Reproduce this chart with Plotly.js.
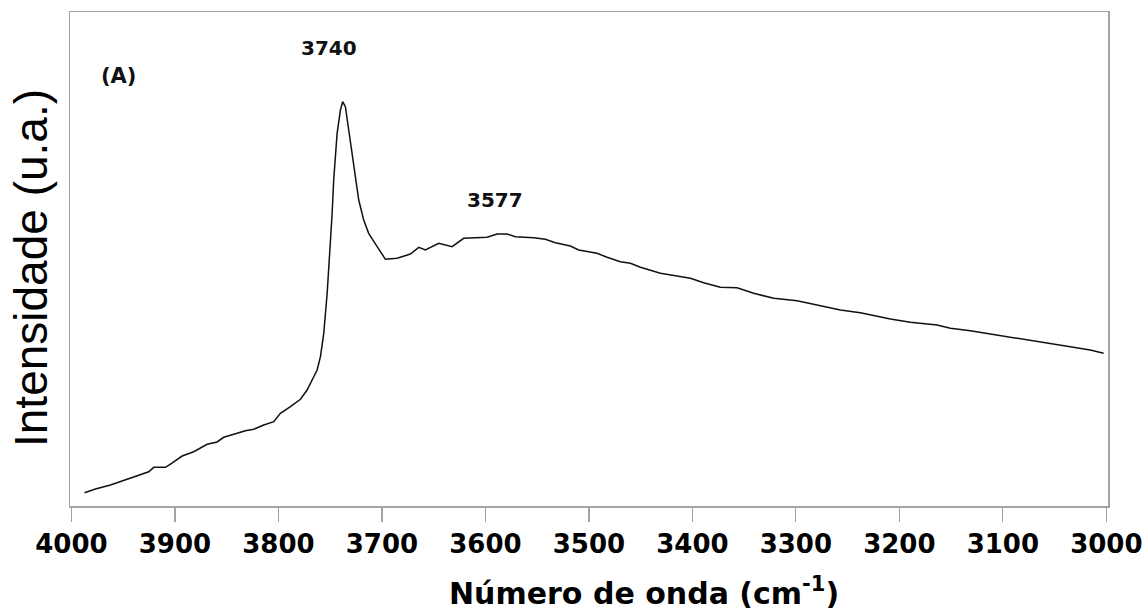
<!DOCTYPE html>
<html>
<head>
<meta charset="utf-8">
<script src="https://cdn.plot.ly/plotly-3.0.1.min.js"></script>
<style>
html,body{margin:0;padding:0;background:#fff;}
#chart{width:1145px;height:611px;}
</style>
</head>
<body>
<div id="chart"></div>
<script>
// Wavenumber (cm-1) and intensity (a.u.)
const wavenumber = [3987.4,3976.8,3962.3,3943.0,3925.3,3920.5,3909.2,3904.3,3893.0,3881.8,3868.9,3859.2,3852.9,3839.9,3831.9,3823.9,3814.2,3804.5,3798.1,3788.4,3778.7,3772.3,3769.1,3762.6,3759.4,3756.2,3752.9,3749.8,3748.1,3746.6,3743.3,3740.1,3737.9,3735.3,3732.1,3728.8,3725.6,3722.4,3717.6,3712.8,3704.6,3696.6,3685.3,3672.5,3664.4,3658.0,3645.1,3632.2,3621.0,3608.0,3598.4,3588.7,3579.0,3571.0,3553.3,3542.0,3532.4,3517.9,3509.9,3492.1,3482.4,3469.6,3459.9,3450.2,3430.9,3401.9,3389.1,3373.0,3356.8,3340.8,3321.4,3298.8,3276.3,3257.0,3237.7,3228.0,3208.7,3189.4,3163.6,3150.7,3131.4,3112.1,3092.8,3073.4,3054.1,3034.8,3015.5,3002.6];
const intensity = [2.69,3.44,4.25,5.67,6.94,7.83,7.83,8.50,10.12,10.99,12.49,12.96,13.91,14.72,15.24,15.53,16.40,17.06,18.77,20.10,21.60,23.48,24.84,27.53,30.22,34.96,43.06,52.49,59.25,65.99,75.44,80.16,81.84,80.83,76.11,71.40,66.66,61.94,57.89,55.20,52.49,49.94,50.14,51.01,52.37,51.82,53.18,52.49,54.19,54.39,54.39,55.06,55.06,54.51,54.31,53.99,53.30,52.63,51.82,51.15,50.34,49.45,49.13,48.32,47.11,46.09,45.20,44.27,44.19,43.06,42.04,41.56,40.55,39.68,39.13,38.66,37.85,37.19,36.64,35.97,35.49,34.82,34.15,33.46,32.93,32.25,31.58,30.91];
const xTicks = [4000,3900,3800,3700,3600,3500,3400,3300,3200,3100,3000];
const peakLabels = ["3740","3577"];
const peakX = [3740,3577];
const peakY = [81.84,55.06];

const frameColor = '#a3a3a3';

const trace = {
  x: wavenumber, y: intensity, type: 'scatter', mode: 'lines',
  line: {color: '#111', width: 1.5},
  hoverinfo: 'skip', showlegend: false
};

const annotations = [
  {xref:'x', yref:'y', x: peakX[0], y: peakY[0], text: peakLabels[0], showarrow:false,
   xshift:-12, yshift:54, font:{family:'DejaVu Sans', size:20, weight:'bold', color:'#111'}},
  {xref:'x', yref:'y', x: peakX[1], y: peakY[1], text: peakLabels[1], showarrow:false,
   xshift:-14, yshift:34, font:{family:'DejaVu Sans', size:20, weight:'bold', color:'#111'}},
  {xref:'paper', yref:'paper', x:(118-70)/1038, y:(506-76)/494, text:'(A)', showarrow:false,
   xanchor:'center', yanchor:'middle', font:{family:'DejaVu Sans', size:21, weight:'bold', color:'#111'}},
  {xref:'paper', yref:'paper', x:(644-70)/1038, y:-(591-506)/494, text:'Número de onda (cm<sup>-1</sup>)', showarrow:false,
   xanchor:'center', yanchor:'middle', font:{family:'DejaVu Sans', size:30, weight:'bold', color:'#000'}},
  {xref:'paper', yref:'paper', x:-(70-31)/1038, y:(506-268)/494, text:'Intensidade (u.a.)', showarrow:false,
   textangle:-90, xanchor:'center', yanchor:'middle', font:{family:'Liberation Sans', size:46, color:'#000'}}
];

const layout = {
  width: 1145, height: 611,
  margin: {l: 70, r: 37, t: 12, b: 105},
  paper_bgcolor: '#fff', plot_bgcolor: '#fff',
  xaxis: {
    range: [4001.4, 2998.4], tickvals: xTicks, ticktext: xTicks.map(String),
    ticks: 'outside', ticklen: 14, tickwidth: 1.2, tickcolor: frameColor,
    showline: true, linecolor: frameColor, linewidth: 1.5, mirror: true,
    showgrid: false, zeroline: false,
    tickfont: {family: 'DejaVu Sans', size: 26, weight: 'bold', color: '#000'}
  },
  yaxis: {
    range: [0, 100], showticklabels: false, ticks: '',
    showline: true, linecolor: frameColor, linewidth: 1.5, mirror: true,
    showgrid: false, zeroline: false
  },
  annotations: annotations
};

Plotly.newPlot('chart', [trace], layout, {displayModeBar: false, staticPlot: true});
</script>
</body>
</html>
